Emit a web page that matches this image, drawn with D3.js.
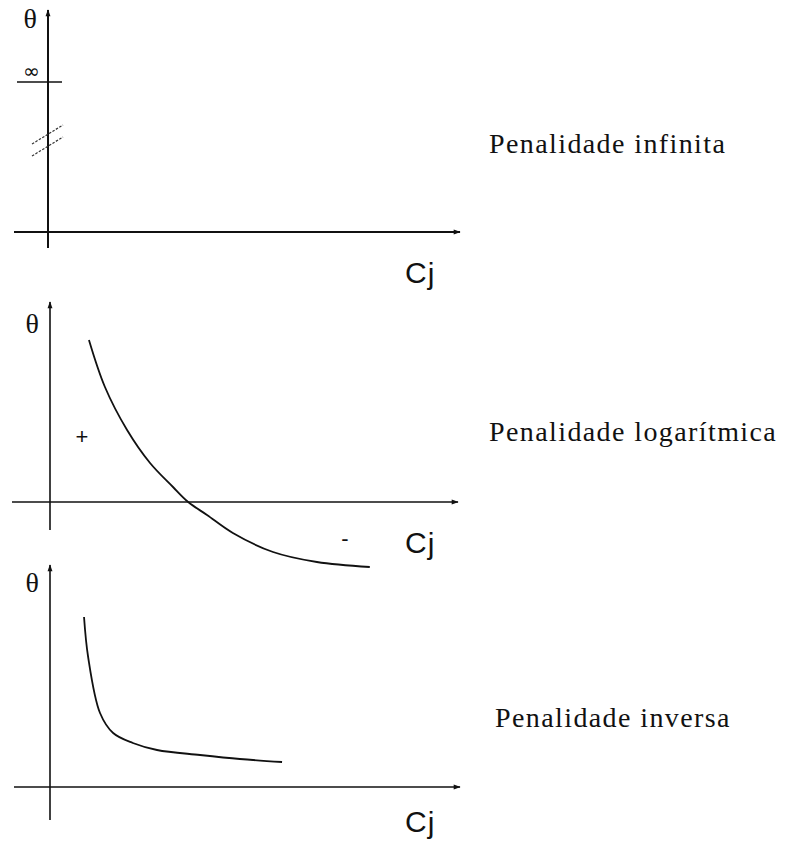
<!DOCTYPE html>
<html>
<head>
<meta charset="utf-8">
<script src="https://cdn.jsdelivr.net/npm/d3@7"></script>
<style>
  html, body { margin: 0; padding: 0; background: #fff; }
  svg { display: block; }
</style>
</head>
<body>
<svg id="chart" width="790" height="844"></svg>
<script>
// Penalty function shapes: theta as a function of Cj
const panelTitles = ["Penalidade infinita", "Penalidade logarítmica", "Penalidade inversa"];
const yLabel = "θ";
const xLabel = "C";
const xLabelSub = "j";
const infinityLabel = "∞";
const signLabels = ["+", "-"];

// Level of the "infinite" penalty (above the axis break)
const infiniteLevel = 7.5;

// Logarithmic penalty: positive below the threshold, negative above
const logX = [0.95, 1.34, 1.88, 2.44, 3.0, 3.37, 3.83, 4.46, 5.44, 6.51, 7.8];
const logY = [8.1, 5.75, 3.6, 1.95, 0.75, 0.0, -0.65, -1.55, -2.5, -3.0, -3.25];

// Inverse penalty: decays towards zero
const invX = [0.83, 0.93, 1.22, 1.54, 2.02, 2.61, 3.66, 4.63, 5.66];
const invY = [8.5, 6.5, 3.7, 2.7, 2.2, 1.85, 1.6, 1.4, 1.25];

const svg = d3.select("#chart");
const ink = "#111";

const defs = svg.append("defs");
defs.append("marker")
  .attr("id", "arrow")
  .attr("viewBox", "0 0 10 10")
  .attr("refX", 9).attr("refY", 5)
  .attr("markerWidth", 9).attr("markerHeight", 7)
  .attr("markerUnits", "userSpaceOnUse")
  .attr("orient", "auto")
  .append("path")
  .attr("d", "M0,1.5 L10,5 L0,8.5 Z")
  .attr("fill", ink);

// Layout of the three stacked panels
const panels = [
  { ox: 48, oy: 232, xEnd: 460, xStart: 14, yTop: 10, yBottom: 248, w: 2, titleX: 489, titleY: 153, thetaY: 28, cjY: 283 },
  { ox: 50, oy: 502, xEnd: 458, xStart: 12, yTop: 302, yBottom: 530, w: 1.6, titleX: 489, titleY: 441, thetaY: 333, cjY: 553 },
  { ox: 50, oy: 787, xEnd: 460, xStart: 14, yTop: 565, yBottom: 820, w: 1.6, titleX: 495, titleY: 727, thetaY: 592, cjY: 832 }
];

const unitX = 41, unitY = 20;

panels.forEach((p, i) => {
  const g = svg.append("g");
  const x = d3.scaleLinear().domain([0, 10]).range([p.ox, p.ox + 10 * unitX]);
  const y = d3.scaleLinear().domain([0, 10]).range([p.oy, p.oy - 10 * unitY]);
  p.x = x; p.y = y; p.g = g;

  // horizontal axis with arrow
  g.append("line")
    .attr("x1", p.xStart).attr("x2", p.xEnd)
    .attr("y1", y(0)).attr("y2", y(0))
    .attr("stroke", ink).attr("stroke-width", p.w)
    .attr("marker-end", "url(#arrow)");

  // vertical axis with arrow
  g.append("line")
    .attr("x1", x(0)).attr("x2", x(0))
    .attr("y1", p.yBottom).attr("y2", p.yTop)
    .attr("stroke", ink).attr("stroke-width", p.w)
    .attr("marker-end", "url(#arrow)");

  // theta label
  g.append("text")
    .attr("x", x(0) - 11).attr("y", p.thetaY)
    .attr("text-anchor", "end")
    .attr("font-family", "'Liberation Serif', 'Times New Roman', serif")
    .attr("font-size", 28)
    .attr("fill", ink)
    .text(yLabel);

  // Cj label
  const cj = g.append("text")
    .attr("x", 405).attr("y", p.cjY)
    .attr("font-family", "'Liberation Sans', Arial, sans-serif")
    .attr("font-size", 30)
    .attr("fill", ink);
  cj.append("tspan").text(xLabel);
  cj.append("tspan").attr("dx", 1).attr("dy", 1).text(xLabelSub);

  // panel title
  g.append("text")
    .attr("x", p.titleX).attr("y", p.titleY)
    .attr("font-family", "'Liberation Serif', 'Times New Roman', serif")
    .attr("font-size", 28)
    .attr("letter-spacing", 1.4)
    .attr("fill", ink)
    .text(panelTitles[i]);
});

// Panel 1: infinite level marker and axis break
{
  const p = panels[0];
  const g = p.g, x = p.x, y = p.y;
  g.append("line")
    .attr("x1", x(0) - 31).attr("x2", x(0) + 14)
    .attr("y1", y(infiniteLevel)).attr("y2", y(infiniteLevel))
    .attr("stroke", ink).attr("stroke-width", 1.6);
  g.append("text")
    .attr("x", x(0) - 25).attr("y", y(infiniteLevel) - 4)
    .attr("font-family", "'DejaVu Sans', sans-serif")
    .attr("font-size", 20)
    .attr("fill", ink)
    .text(infinityLabel);
  // double slash break on the vertical axis
  const breakMid = [infiniteLevel - 2.6, infiniteLevel - 3.2];
  breakMid.forEach(v => {
    g.append("line")
      .attr("x1", x(0) - 16).attr("y1", y(v) + 10)
      .attr("x2", x(0) + 15).attr("y2", y(v) - 9)
      .attr("stroke", "#333").attr("stroke-width", 1.2)
      .attr("stroke-dasharray", "2.5,1.5");
  });
}

const line = d3.line().curve(d3.curveCatmullRom.alpha(0.5));

// Panel 2: logarithmic penalty
{
  const p = panels[1];
  const pts = logX.map((v, k) => [p.x(v), p.y(logY[k])]);
  p.g.append("path")
    .attr("d", line(pts))
    .attr("fill", "none").attr("stroke", ink).attr("stroke-width", 1.8);
  p.g.append("text")
    .attr("x", 82).attr("y", 444)
    .attr("text-anchor", "middle")
    .attr("font-family", "'Liberation Sans', Arial, sans-serif")
    .attr("font-size", 22).attr("fill", ink)
    .text(signLabels[0]);
  p.g.append("text")
    .attr("x", 345).attr("y", 546)
    .attr("text-anchor", "middle")
    .attr("font-family", "'Liberation Sans', Arial, sans-serif")
    .attr("font-size", 22).attr("fill", ink)
    .text(signLabels[1]);
}

// Panel 3: inverse penalty
{
  const p = panels[2];
  const pts = invX.map((v, k) => [p.x(v), p.y(invY[k])]);
  p.g.append("path")
    .attr("d", line(pts))
    .attr("fill", "none").attr("stroke", ink).attr("stroke-width", 1.8);
}
</script>
</body>
</html>
